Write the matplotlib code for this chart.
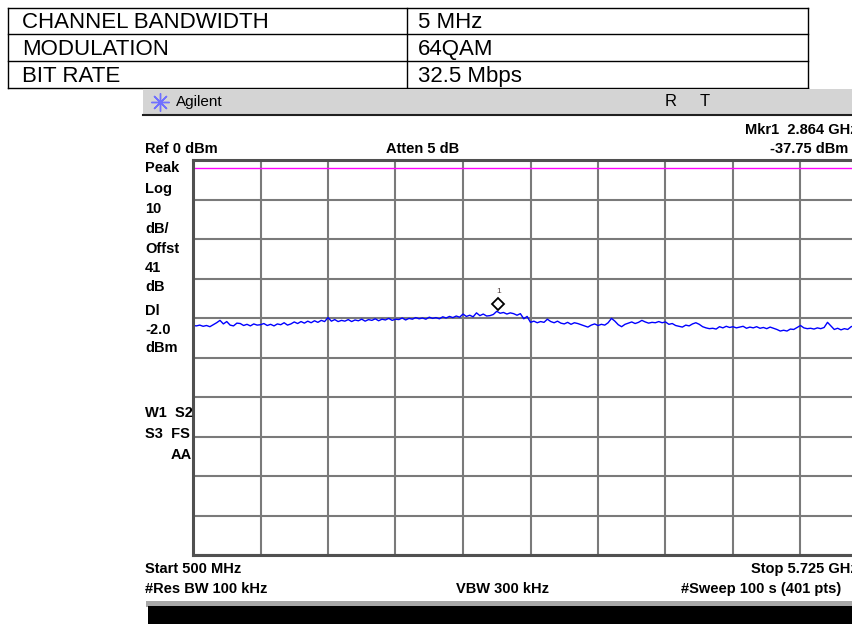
import numpy as np
import matplotlib
matplotlib.use('Agg')
import matplotlib.pyplot as plt
from matplotlib.patches import Rectangle
from matplotlib.lines import Line2D
import matplotlib.transforms as mtransforms

plt.rcParams['font.family'] = ['Liberation Sans', 'DejaVu Sans']

# spec table
table_keys = ['CHANNEL BANDWIDTH', 'MODULATION', 'BIT RATE']
table_vals = ['5 MHz', '64QAM', '32.5 Mbps']

# analyzer settings
start_mhz = 500
stop_mhz = 5725
ref_dbm = 0
db_per_div = 10
display_line = -2.0
marker_mhz = 2864
marker_dbm = -37.75

# trace (every 2nd sweep point)
trace_dbm = [
    -41.9, -42.0, -41.8, -42.1, -41.9, -42.2, -41.7, -41.2, -40.6, -41.5,
    -40.9, -41.8, -42.0, -41.3, -41.4, -41.9, -41.6, -42.0, -41.5, -41.8,
    -41.7, -41.4, -41.9, -41.6, -42.0, -41.5, -41.7, -41.2, -41.8, -41.5,
    -41.0, -41.4, -40.9, -41.3, -40.8, -41.2, -40.7, -41.1, -40.6, -40.9,
    -39.9, -40.8, -40.4, -40.9, -40.6, -40.8, -40.4, -40.9, -40.5, -40.7,
    -40.3, -40.8, -40.4, -40.6, -40.2, -40.7, -40.3, -40.5, -40.1, -40.6,
    -40.3, -40.4, -40.0, -40.5, -40.1, -40.3, -39.9, -40.2, -40.0, -40.3,
    -39.8, -40.1, -39.9, -40.2, -39.7, -40.0, -39.6, -39.9, -39.5, -39.8,
    -39.0, -39.6, -39.3, -39.7, -38.7, -39.4, -39.0, -39.5, -39.4, -39.1,
    -38.3, -38.8, -38.6, -39.0, -38.7, -38.9, -39.3, -38.9, -40.2, -39.6,
    -41.1, -40.8, -41.2, -40.9, -41.1, -40.3, -40.9, -41.2, -40.8, -41.3,
    -41.5, -41.1, -41.6, -41.2, -41.4, -41.7, -42.0, -42.3, -41.8, -41.5,
    -41.9, -41.6, -41.8, -41.2, -40.1, -40.8, -41.7, -42.2, -41.6, -41.3,
    -41.0, -41.4, -41.1, -40.6, -41.0, -41.3, -41.1, -41.2, -40.9, -41.2,
    -41.0, -41.6, -41.4, -41.9, -42.1, -42.3, -41.8, -42.0, -41.5, -41.2,
    -41.6, -42.2, -42.5, -42.7, -42.6, -42.8, -42.2, -42.5, -42.1, -42.4,
    -42.2, -42.5, -42.3, -42.1, -42.6, -42.3, -42.5, -42.2, -42.6, -42.4,
    -42.7, -42.3, -42.6, -42.9, -43.3, -43.1, -43.3, -42.8, -42.9, -42.4,
    -41.9, -42.5, -42.7, -42.6, -42.8, -42.5, -42.7, -42.4, -41.1, -42.0,
    -42.9, -42.6, -43.0, -42.7, -42.9, -42.2, -41.9, -42.4, -42.1, -42.6,
    -42.3,
]
freq_mhz = np.linspace(start_mhz, stop_mhz, len(trace_dbm))

W, H = 853, 624
fig = plt.figure(figsize=(W / 100, H / 100), dpi=100)
fig.patch.set_facecolor('white')


def fx(x):
    return x / W


def fy(y):
    return 1 - y / H


# --- table at the top ---
for y in [8, 34, 61, 88]:
    fig.add_artist(Line2D([fx(8), fx(808)], [fy(y), fy(y)], color='black', lw=1, zorder=-3))
for x in [8, 407, 808]:
    fig.add_artist(Line2D([fx(x), fx(x)], [fy(8), fy(88)], color='black', lw=1, zorder=-3))
for i, (k, v) in enumerate(zip(table_keys, table_vals)):
    yc = 28 + i * 27
    fig.text(fx(22), fy(yc), k, fontsize=16, va='baseline', ha='left')
    fig.text(fx(418), fy(yc), v, fontsize=16, va='baseline', ha='left')

# --- analyzer screenshot ---
fig.add_artist(Rectangle((fx(143), fy(115)), 1 - fx(143), fy(89) - fy(115),
                         transform=fig.transFigure, facecolor='#d4d4d4', edgecolor='none',
                         zorder=-2))
fig.add_artist(Line2D([fx(143), 1], [fy(115), fy(115)], color='#202020', lw=1.5))
fig.add_artist(Line2D([fx(160)], [fy(102)], marker=(8, 2, 0), markersize=13,
                      color='#7070ff', mew=1, linestyle='none'))
fig.text(fx(176), fy(102), 'Agilent', fontsize=11, va='center', ha='left')
fig.text(fx(671), fy(102), 'R', fontsize=12, va='center', ha='center')
fig.text(fx(705), fy(102), 'T', fontsize=12, va='center', ha='center')

bold = dict(fontsize=10.5, fontweight='bold', va='center')
fig.text(fx(858), fy(130), 'Mkr1  2.864 GHz', ha='right', **bold)
fig.text(fx(145), fy(149), 'Ref 0 dBm', ha='left', **bold)
fig.text(fx(386), fy(149), 'Atten 5 dB', ha='left', **bold)
fig.text(fx(848), fy(149), '%.2f dBm' % marker_dbm, ha='right', **bold)

left_labels = [('Peak', 168), ('Log', 189), ('10', 209), ('dB/', 229), ('Offst', 249),
               ('41', 268), ('dB', 287), ('Dl', 311), ('%.1f' % display_line, 330),
               ('dBm', 348), ('W1  S2', 413), ('S3  FS', 434)]
for txt, y in left_labels:
    fig.text(fx(145), fy(y), txt, ha='left', **bold)
fig.text(fx(192), fy(455), 'AA', ha='right', **bold)

fig.text(fx(145), fy(569), 'Start 500 MHz', ha='left', **bold)
fig.text(fx(858), fy(569), 'Stop 5.725 GHz', ha='right', **bold)
fig.text(fx(145), fy(589), '#Res BW 100 kHz', ha='left', **bold)
fig.text(fx(503), fy(589), 'VBW 300 kHz', ha='center', **bold)
fig.text(fx(841), fy(589), '#Sweep 100 s (401 pts)', ha='right', **bold)

fig.add_artist(Rectangle((fx(146), fy(607)), 1 - fx(146), fy(601) - fy(607),
                         transform=fig.transFigure, facecolor='#a8a8a8', edgecolor='none',
                         zorder=-2))
fig.add_artist(Rectangle((fx(148), 0), 1 - fx(148), fy(606),
                         transform=fig.transFigure, facecolor='black', edgecolor='none',
                         zorder=-1))

# --- graticule ---
ax = fig.add_axes([fx(193), fy(555), 675 / W, 395 / H])
ax.set_xlim(start_mhz, stop_mhz)
ax.set_ylim(ref_dbm - 10 * db_per_div, ref_dbm)
ax.set_xticks(np.linspace(start_mhz, stop_mhz, 11))
ax.set_yticks(np.arange(ref_dbm - 10 * db_per_div, ref_dbm + 1, db_per_div))
ax.tick_params(length=0, labelbottom=False, labelleft=False)
ax.grid(True, color='#7a7a7a', lw=1.5)
for s in ax.spines.values():
    s.set_color('#505050')
    s.set_linewidth(2.2)

ax.axhline(display_line, color='#ff00ff', lw=1)
ax.plot(freq_mhz, trace_dbm, color='#0000ff', lw=1)

up = mtransforms.offset_copy(ax.transData, fig=fig, x=0, y=4, units='points')
ax.plot([marker_mhz], [marker_dbm], marker='D', markersize=6, mfc='white', mec='black',
        mew=1.3, transform=up, clip_on=False)
ax.annotate('1', (marker_mhz, marker_dbm), xytext=(0, 13), textcoords='offset points',
            ha='center', va='center', fontsize=6, color='#504040')

fig.savefig('out.png', dpi=100)
